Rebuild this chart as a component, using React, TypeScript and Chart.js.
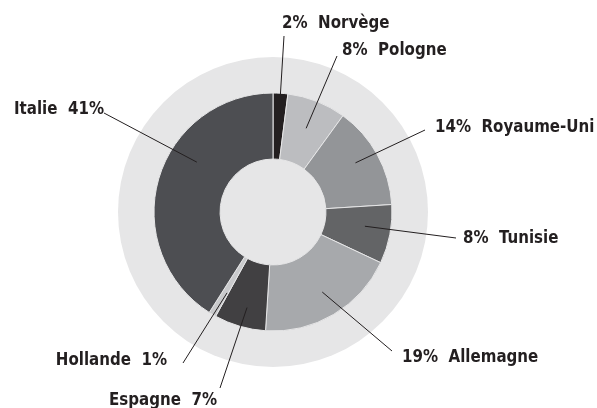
import React, { useEffect, useRef } from "react";
import { Chart, registerables } from "chart.js";

Chart.register(...registerables);

const countries = ["Norvège", "Pologne", "Royaume-Uni", "Tunisie", "Allemagne", "Espagne", "Hollande", "Italie"];
const shares = [2, 8, 14, 8, 19, 7, 1, 41];
const sliceColors = ["#231f20", "#bcbdc0", "#939598", "#636466", "#a7a9ac", "#414042", "#c9cacc", "#4d4e52"];

// label layout relative to chart centre (px)
type LabelLayout = { tx: number; ty: number; align: "left" | "right"; lx: number; ly: number; r: number; angOff: number; pctFirst: boolean };
const labelLayout: LabelLayout[] = [
  { tx: 9, ty: -189, align: "left", lx: 11, ly: -176, r: 117, angOff: 0, pctFirst: true },
  { tx: 69, ty: -162, align: "left", lx: 64, ly: -156, r: 90, angOff: 0, pctFirst: true },
  { tx: 162, ty: -85, align: "left", lx: 152, ly: -82, r: 96, angOff: -2, pctFirst: true },
  { tx: 190, ty: 26, align: "left", lx: 183, ly: 26, r: 93, angOff: -2, pctFirst: true },
  { tx: 129, ty: 145, align: "left", lx: 119, ly: 139, r: 94, angOff: -1, pctFirst: true },
  { tx: -56, ty: 188, align: "right", lx: -53, ly: 176, r: 99, angOff: -1, pctFirst: false },
  { tx: -106, ty: 148, align: "right", lx: -90, ly: 151, r: 93, angOff: -1, pctFirst: false },
  { tx: -169, ty: -103, align: "right", lx: -169, ly: -99, r: 91, angOff: 17, pctFirst: false },
];

const RING_BG = "#e6e6e7";
const FONT = "bold 18px 'DejaVu Sans Condensed', 'Liberation Sans Narrow', sans-serif";
const TEXT_SQUEEZE = 0.93;

export default function App() {
  const ref = useRef<HTMLCanvasElement>(null);
  useEffect(() => {
    if (!ref.current) return;
    const bgPlugin = {
      id: "bgRing",
      beforeDatasetsDraw(chart: any) {
        const meta = chart.getDatasetMeta(0);
        const arc = meta.data[0];
        if (!arc) return;
        const { x, y, outerRadius } = arc.getProps(["x", "y", "outerRadius"], true);
        const ctx = chart.ctx;
        ctx.save();
        ctx.fillStyle = RING_BG;
        ctx.beginPath();
        ctx.arc(x, y, (outerRadius * 155) / 119, 0, Math.PI * 2);
        ctx.fill();
        ctx.restore();
      },
    };
    const labelPlugin = {
      id: "labels",
      afterDatasetsDraw(chart: any) {
        const meta = chart.getDatasetMeta(0);
        const ctx = chart.ctx;
        meta.data.forEach((arc: any, i: number) => {
          const p = arc.getProps(["x", "y", "startAngle", "endAngle"], true);
          const L = labelLayout[i];
          const a = (p.startAngle + p.endAngle) / 2 + (L.angOff * Math.PI) / 180;
          const ax = p.x + Math.cos(a) * L.r;
          const ay = p.y + Math.sin(a) * L.r;
          ctx.save();
          ctx.strokeStyle = "#231f20";
          ctx.lineWidth = 1;
          ctx.beginPath();
          ctx.moveTo(ax, ay);
          ctx.lineTo(p.x + L.lx, p.y + L.ly);
          ctx.stroke();
          const txt = L.pctFirst ? `${shares[i]}%  ${countries[i]}` : `${countries[i]}  ${shares[i]}%`;
          ctx.font = FONT;
          ctx.fillStyle = "#231f20";
          ctx.textBaseline = "middle";
          ctx.textAlign = L.align;
          ctx.translate(p.x + L.tx, p.y + L.ty);
          ctx.scale(TEXT_SQUEEZE, 1);
          ctx.fillText(txt, 0, 0);
          ctx.restore();
        });
      },
    };
    const chart = new Chart(ref.current, {
      type: "doughnut",
      data: {
        labels: countries,
        datasets: [
          {
            data: shares,
            backgroundColor: sliceColors,
            borderColor: RING_BG,
            borderWidth: 1,
          },
        ],
      },
      options: {
        animation: false,
        responsive: false,
        radius: 119,
        cutout: "44.5%",
        layout: { padding: { left: 0, right: 51, top: 16, bottom: 0 } },
        plugins: { legend: { display: false }, tooltip: { enabled: false } },
      },
      plugins: [bgPlugin, labelPlugin],
    });
    return () => chart.destroy();
  }, []);
  return (
    <div style={{ position: "fixed", left: 0, top: 0, width: 597, height: 408, background: "#fff" }}>
      <canvas ref={ref} width={597} height={408} style={{ width: 597, height: 408 }} />
    </div>
  );
}
